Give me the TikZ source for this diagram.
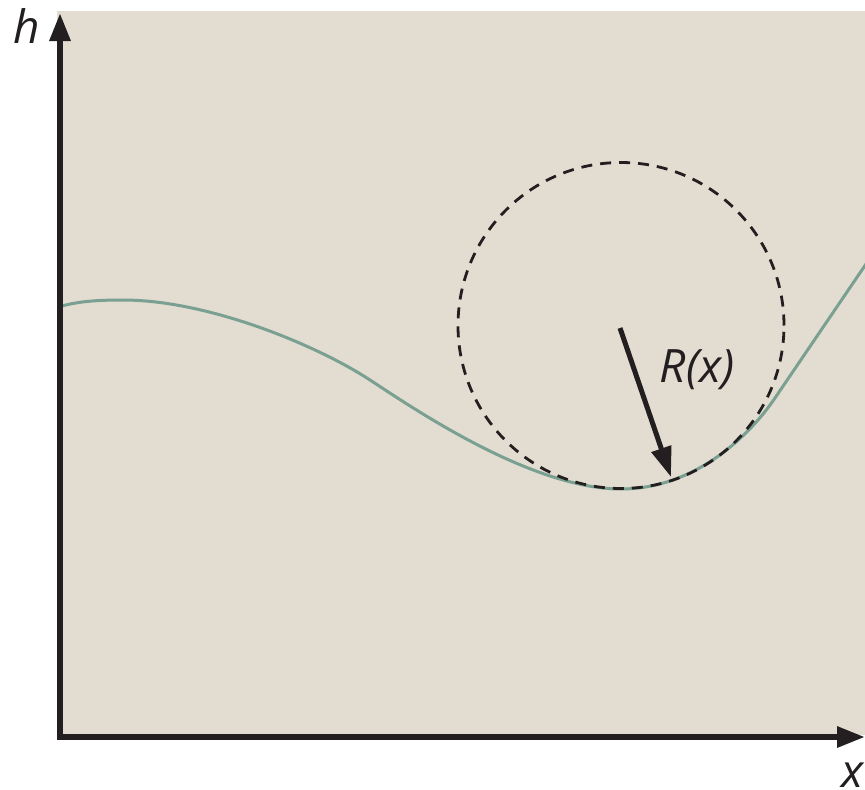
\documentclass[tikz,border=0pt]{standalone}
\usepackage{fontspec}
\setmainfont{Open Sans}
\usetikzlibrary{arrows.meta}
\definecolor{bgbeige}{RGB}{226,220,209}
\definecolor{curvegreen}{RGB}{122,160,145}
\definecolor{inkblack}{RGB}{35,31,32}
\tikzset{
  axisline/.style={draw=inkblack, line width=6pt, -{Triangle[length=28pt,width=20pt]}},
  curveline/.style={draw=curvegreen, line width=3pt},
  circleline/.style={draw=inkblack, line width=2.8pt, dash pattern=on 11pt off 8pt},
  radiusarrow/.style={draw=inkblack, line width=5pt, -{Triangle[length=30pt,width=20pt]}},
  lbl/.style={inner sep=0pt, text=inkblack, font=\fontsize{46}{48}\selectfont\itshape}
}
\begin{document}
\begin{tikzpicture}[x=1pt,y=-1pt]
\useasboundingbox (0,0) rectangle (865,790);
\fill[bgbeige] (57,11) rectangle (865,735);
% curve
\draw[curveline] (62,306) .. controls (80,301) and (100,300) .. (123,300)
  .. controls (210,300) and (320,347) .. (370,380)
  .. controls (410,406) and (530,489) .. (621,489)
  .. controls (690,489) and (745,442) .. (775,398) -- (866,264);
% circle
\node[circle, circleline, minimum size=326pt, inner sep=0pt] (circ) at (621,325.5) {};
% axes
\coordinate (O) at (60,737);
\coordinate (htip) at (60,13);
\coordinate (xtip) at (865,737);
\draw[axisline] (60,740) -- (htip);
\draw[axisline] (57,737) -- (xtip);
\node[lbl, anchor=base] (hlab) at (27,43) {h};
\node[lbl, anchor=base] (xlab) at (853,787) {x};
% radius arrow
\coordinate (rstart) at (620,328);
\coordinate (rend) at (671,477);
\draw[radiusarrow] (rstart) -- (rend);
\node[lbl, anchor=base] (rlab) at (697,382) {R(x)};
\end{tikzpicture}
\end{document}
